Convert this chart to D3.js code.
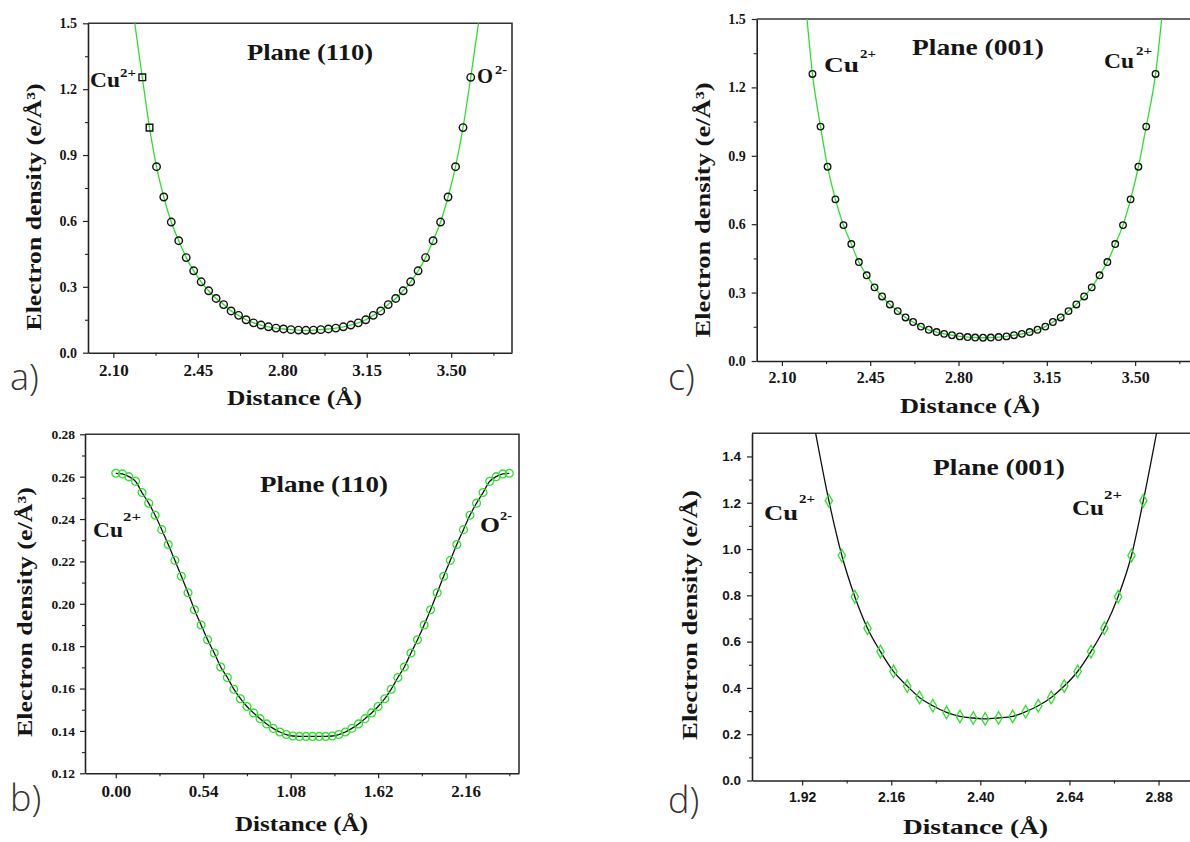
<!DOCTYPE html>
<html><head><meta charset="utf-8">
<script src="https://cdn.jsdelivr.net/npm/d3@7"></script>
<style>body{margin:0;background:#fff}svg{display:block}</style>
</head><body>
<svg id="fig" width="1190" height="842"></svg>
<script>
// ---------- DATA ----------
// Panel a) Plane (110), Cu2+ -> O2-
const aX = [2.220,2.250,2.279,2.309,2.340,2.371,2.402,2.433,2.464,2.495,2.526,2.557,2.588,2.619,2.650,2.681,2.712,2.743,2.774,2.805,2.836,2.867,2.898,2.929,2.960,2.991,3.022,3.053,3.084,3.115,3.146,3.177,3.208,3.239,3.270,3.301,3.332,3.363,3.394,3.425,3.456,3.487,3.518,3.549,3.581];
const aY = [1.254,1.025,0.847,0.709,0.595,0.510,0.433,0.373,0.323,0.282,0.247,0.219,0.190,0.170,0.150,0.136,0.126,0.118,0.112,0.108,0.105,0.103,0.102,0.103,0.105,0.108,0.112,0.118,0.126,0.136,0.150,0.170,0.190,0.219,0.247,0.282,0.323,0.373,0.433,0.510,0.595,0.709,0.847,1.025,1.254];
const aEndX = [2.185, 3.617];
const aEndY = [1.53, 1.53];

// Panel c) Plane (001), Cu2+ -> Cu2+
const cX = [2.221,2.253,2.281,2.312,2.344,2.375,2.405,2.436,2.467,2.497,2.528,2.559,2.590,2.620,2.651,2.682,2.713,2.743,2.774,2.805,2.836,2.866,2.897,2.928,2.959,2.990,3.020,3.051,3.082,3.113,3.144,3.174,3.205,3.236,3.267,3.298,3.328,3.359,3.390,3.421,3.452,3.482,3.513,3.544,3.581];
const cY = [1.259,1.028,0.852,0.709,0.596,0.513,0.434,0.376,0.323,0.283,0.248,0.219,0.191,0.171,0.151,0.137,0.127,0.119,0.113,0.108,0.105,0.103,0.102,0.103,0.105,0.108,0.113,0.119,0.127,0.137,0.151,0.171,0.191,0.219,0.248,0.283,0.323,0.376,0.434,0.513,0.596,0.709,0.852,1.028,1.259];
const cEndX = [2.197, 3.608];
const cEndY = [1.53, 1.53];

// Panel b) Plane (110), 0 .. 2.43 A
const bX = [0.000,0.041,0.081,0.122,0.162,0.203,0.243,0.284,0.324,0.365,0.405,0.446,0.486,0.527,0.567,0.608,0.648,0.689,0.729,0.770,0.810,0.851,0.891,0.932,0.972,1.013,1.053,1.094,1.134,1.175,1.215,1.256,1.296,1.337,1.377,1.418,1.458,1.499,1.539,1.580,1.620,1.661,1.701,1.742,1.782,1.823,1.863,1.904,1.944,1.985,2.025,2.066,2.106,2.147,2.187,2.228,2.268,2.309,2.349,2.390,2.430];
const bY = [0.2616,0.2613,0.2600,0.2578,0.2525,0.2475,0.2418,0.2350,0.2280,0.2205,0.2130,0.2052,0.1972,0.1900,0.1830,0.1768,0.1702,0.1652,0.1597,0.1552,0.1515,0.1485,0.1458,0.1433,0.1412,0.1395,0.1383,0.1376,0.1374,0.1374,0.1374,0.1374,0.1374,0.1376,0.1383,0.1395,0.1412,0.1433,0.1458,0.1485,0.1515,0.1552,0.1597,0.1652,0.1702,0.1768,0.1830,0.1900,0.1972,0.2052,0.2130,0.2205,0.2280,0.2350,0.2418,0.2475,0.2525,0.2578,0.2600,0.2613,0.2616];

// Panel d) Plane (001)
const dX = [1.992,2.027,2.062,2.096,2.131,2.166,2.203,2.236,2.272,2.309,2.345,2.381,2.413,2.449,2.487,2.522,2.556,2.591,2.626,2.662,2.698,2.734,2.771,2.807,2.839];
const dY = [1.209,0.972,0.794,0.658,0.557,0.471,0.408,0.359,0.323,0.294,0.277,0.270,0.266,0.270,0.277,0.297,0.323,0.359,0.408,0.471,0.557,0.658,0.794,0.972,1.209];
const dEndX = [1.953, 2.878];
const dEndY = [1.53, 1.53];

// Tick values
const abcYMajor = [0.0,0.3,0.6,0.9,1.2,1.5];
const abcYMinor = [0.15,0.45,0.75,1.05,1.35];
const acXMajor = [2.10,2.45,2.80,3.15,3.50];
const acXMinor = [2.275,2.625,2.975,3.325,3.675];
const bXMajor = [0.00,0.54,1.08,1.62,2.16];
const bXMinor = [0.27,0.81,1.35,1.89,2.43];
const bYMajor = [0.12,0.14,0.16,0.18,0.20,0.22,0.24,0.26,0.28];
const bYMinor = [0.13,0.15,0.17,0.19,0.21,0.23,0.25,0.27];
const dXMajor = [1.92,2.16,2.40,2.64,2.88];
const dXMinor = [2.04,2.28,2.52,2.76];
const dYMajor = [0.0,0.2,0.4,0.6,0.8,1.0,1.2,1.4];
const dYMinor = [0.1,0.3,0.5,0.7,0.9,1.1,1.3];

// ---------- DRAW ----------
const svg = d3.select("#fig");
const SERIF = "'Liberation Serif','Times New Roman',serif";
const SANS = "'Liberation Sans',Arial,sans-serif";
const INK = "#151515";
const GREEN = "#2ee02e";

function txt(s, x, y, size, opts = {}) {
  const t = svg.append("text").attr("x", x).attr("y", y).text(s)
    .attr("font-family", opts.family || SERIF)
    .attr("font-weight", opts.weight || "bold")
    .attr("font-size", size).attr("fill", opts.fill || INK)
    .attr("text-anchor", opts.anchor || "start");
  if (opts.len) t.attr("textLength", opts.len).attr("lengthAdjust", "spacingAndGlyphs");
  if (opts.rot) t.attr("transform", `rotate(-90,${x},${y})`);
  return t;
}

function panel(o) {
  const g = svg.append("g");
  const x = d3.scaleLinear().domain(o.xDomain).range([o.left, o.right]);
  const y = d3.scaleLinear().domain(o.yDomain).range([o.bottom, o.top]);
  svg.append("clipPath").attr("id", "clip" + o.id).append("rect")
    .attr("x", o.left).attr("y", o.top).attr("width", o.right - o.left).attr("height", o.bottom - o.top);

  g.append("path").attr("d", `M${o.left},${o.top}H${o.right}V${o.bottom}`)
    .attr("fill", "none").attr("stroke", "#333").attr("stroke-width", 1.6);

  const xa = g.append("g").attr("transform", `translate(0,${o.bottom})`)
    .call(d3.axisBottom(x).tickValues(o.xMajor).tickSize(5).tickSizeOuter(0).tickFormat(d3.format(o.xFmt)));
  xa.select(".domain").attr("stroke", "#222").attr("stroke-width", 1.6);
  xa.selectAll(".tick line").attr("stroke", "#222").attr("stroke-width", 1.2);
  xa.selectAll("text").attr("y", o.xLabOff).attr("dy", 0)
    .attr("font-family", o.tickFamily).attr("font-weight", "bold").attr("font-size", o.xTickSize).attr("fill", INK);
  const xm = g.append("g").attr("transform", `translate(0,${o.bottom})`)
    .call(d3.axisBottom(x).tickValues(o.xMinor).tickSize(3).tickFormat(""));
  xm.select(".domain").remove();
  xm.selectAll(".tick line").attr("stroke", "#222").attr("stroke-width", 1.1);

  const ya = g.append("g").attr("transform", `translate(${o.left},0)`)
    .call(d3.axisLeft(y).tickValues(o.yMajor).tickSize(5).tickSizeOuter(0).tickFormat(d3.format(o.yFmt)));
  ya.select(".domain").attr("stroke", "#222").attr("stroke-width", 1.6);
  ya.selectAll(".tick line").attr("stroke", "#222").attr("stroke-width", 1.2);
  ya.selectAll("text").attr("x", -o.yLabOff)
    .attr("font-family", o.tickFamily).attr("font-weight", "bold").attr("font-size", o.yTickSize).attr("fill", INK);
  const ym = g.append("g").attr("transform", `translate(${o.left},0)`)
    .call(d3.axisLeft(y).tickValues(o.yMinor).tickSize(3).tickFormat(""));
  ym.select(".domain").remove();
  ym.selectAll(".tick line").attr("stroke", "#222").attr("stroke-width", 1.1);

  const pts = o.xs.map((v, i) => [v, o.ys[i]]);
  const linePts = (o.endX ? [[o.endX[0], o.endY[0]]] : []).concat(pts).concat(o.endX ? [[o.endX[1], o.endY[1]]] : []);
  g.append("path").datum(linePts)
    .attr("clip-path", `url(#clip${o.id})`)
    .attr("d", d3.line().x(d => x(d[0])).y(d => y(d[1])).curve(d3.curveMonotoneX))
    .attr("fill", "none").attr("stroke", o.lineColor).attr("stroke-width", 1.3);

  g.selectAll(null).data(pts).enter().append("path")
    .attr("transform", d => `translate(${x(d[0])},${y(d[1])})`)
    .attr("d", (d, i) => d3.symbol().type(o.symbolFor(i)).size(o.symSize)())
    .attr("fill", "none").attr("stroke", o.markColor).attr("stroke-width", o.markWidth || 1.2);
  return { x, y };
}

// a)
panel({ id: "a", left: 88, right: 512, top: 23.3, bottom: 352.7,
  xDomain: [1.995, 3.752], yDomain: [0, 1.5],
  xMajor: acXMajor, xMinor: acXMinor, yMajor: abcYMajor, yMinor: abcYMinor,
  xFmt: ".2f", yFmt: ".1f", xLabOff: 23.5, yLabOff: 11, xTickSize: 17, yTickSize: 14, tickFamily: SERIF,
  xs: aX, ys: aY, endX: aEndX, endY: aEndY, lineColor: GREEN, markColor: "#111", markWidth: 1.4,
  symbolFor: i => (i < 2 ? d3.symbolSquare : d3.symbolCircle), symSize: 44 });

// c)
panel({ id: "c", left: 756.7, right: 1198.2, top: 19, bottom: 361,
  xDomain: [2.0, 3.75], yDomain: [0, 1.5],
  xMajor: acXMajor, xMinor: acXMinor, yMajor: abcYMajor, yMinor: abcYMinor,
  xFmt: ".2f", yFmt: ".1f", xLabOff: 21.5, yLabOff: 11, xTickSize: 16, yTickSize: 14, tickFamily: SERIF,
  xs: cX, ys: cY, endX: cEndX, endY: cEndY, lineColor: GREEN, markColor: "#111", markWidth: 1.3,
  symbolFor: i => d3.symbolCircle, symSize: 34 });

// b)
panel({ id: "b", left: 85, right: 519, top: 434.3, bottom: 773.3,
  xDomain: [-0.19, 2.49], yDomain: [0.12, 0.28],
  xMajor: bXMajor, xMinor: bXMinor, yMajor: bYMajor, yMinor: bYMinor,
  xFmt: ".2f", yFmt: ".2f", xLabOff: 23.5, yLabOff: 10, xTickSize: 17, yTickSize: 13.5, tickFamily: SERIF,
  xs: bX, ys: bY, lineColor: "#111", markColor: GREEN, markWidth: 1.3,
  symbolFor: i => d3.symbolCircle, symSize: 48 });

// d)
panel({ id: "d", left: 752, right: 1202, top: 433.3, bottom: 780.5,
  xDomain: [1.785, 2.997], yDomain: [0, 1.5],
  xMajor: dXMajor, xMinor: dXMinor, yMajor: dYMajor, yMinor: dYMinor,
  xFmt: ".2f", yFmt: ".1f", xLabOff: 21, yLabOff: 11, xTickSize: 14, yTickSize: 13.5, tickFamily: SANS,
  xs: dX, ys: dY, endX: dEndX, endY: dEndY, lineColor: "#111", markColor: GREEN, markWidth: 1.3,
  symbolFor: i => d3.symbolDiamond, symSize: 46 });

// ---------- TEXT ----------
txt("Electron density (e/Å³)", 41, 207, 21, { anchor: "middle", rot: true, len: 247 });
txt("Electron density (e/Å³)", 710, 210, 21, { anchor: "middle", rot: true, len: 255 });
txt("Electron density (e/Å³)", 32, 612, 21, { anchor: "middle", rot: true, len: 250 });
txt("Electron density (e/Å)", 697, 615, 21, { anchor: "middle", rot: true, len: 250 });
txt("Distance (Å)", 294.5, 405, 22, { anchor: "middle", len: 135 });
txt("Distance (Å)", 970, 413, 22, { anchor: "middle", len: 140 });
txt("Distance (Å)", 301.5, 831, 22, { anchor: "middle", len: 133 });
txt("Distance (Å)", 975.5, 834, 21, { anchor: "middle", len: 145 });

txt("Plane (110)", 310, 60, 24, { anchor: "middle", len: 126 });
txt("Plane (001)", 978, 55, 24, { anchor: "middle", len: 132 });
txt("Plane (110)", 324, 492, 24, { anchor: "middle", len: 128 });
txt("Plane (001)", 999, 475, 23, { anchor: "middle", len: 132 });

function ion(base, sup, x, y, w, sx, sy, sw) {
  txt(base, x, y, 22, { len: w });
  txt(sup, sx, sy, 13, { len: sw });
}
ion("Cu", "2+", 90, 87, 30, 120, 77, 16);
ion("O", "2-", 477, 83, 16, 495, 74, 12);
ion("Cu", "2+", 824, 72, 35, 860, 58, 16);
ion("Cu", "2+", 1104, 68, 30, 1136, 55, 16);
ion("Cu", "2+", 93, 537, 30, 123, 521, 18);
ion("O", "2-", 480, 532, 20, 500, 520, 12);
ion("Cu", "2+", 764, 520, 34, 799, 503, 16);
ion("Cu", "2+", 1072, 515, 32, 1104, 499, 18);

const LET = { family: "'Open Sans','DejaVu Sans',sans-serif", weight: 300, fill: "#333" };
txt("a)", 10, 390, 36, LET);
txt("c)", 668, 390, 36, LET);
txt("b)", 10, 811, 36, LET);
txt("d)", 668, 813, 36, LET);
</script>
</body></html>
